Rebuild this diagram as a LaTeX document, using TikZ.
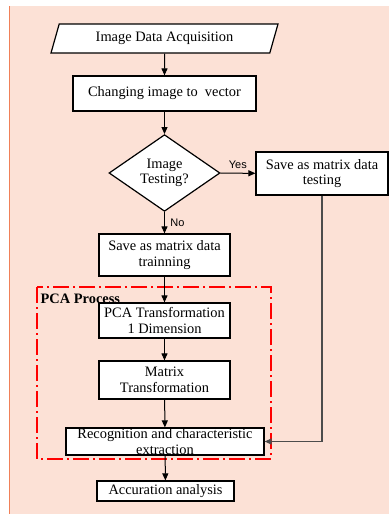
\documentclass[tikz,border=0pt]{standalone}
\usepackage{fontspec}
\setmainfont{Liberation Serif}
\newfontfamily\labelfont{Liberation Sans}
\usetikzlibrary{shapes.geometric}
\usetikzlibrary{arrows.meta}
\definecolor{bgpeach}{RGB}{252,225,214}
\definecolor{edgeorange}{RGB}{240,128,88}
\tikzset{%
  box/.style={draw,fill=white,line width=1.2pt,inner sep=0pt,
              align=center,font=\fontsize{14.4}{15.6}\selectfont},
  flow/.style={line width=1pt,-{Triangle[length=7pt,width=6pt]}},
  yesno/.style={font=\labelfont\fontsize{11}{12}\selectfont},
  pcaframe/.style={draw=red,line width=1.4pt,
              dash pattern=on 16pt off 4pt on 2pt off 4pt},
}

\begin{document}
\begin{tikzpicture}[x=1pt,y=-1pt]
              \useasboundingbox (0,0) rectangle (389,514);
              \fill[bgpeach] (9,6) rectangle (389,514);
              \draw[edgeorange,line width=1.2pt] (9.6,6) -- (9.6,514);
              % flowchart boxes
              \node[box,trapezium,trapezium left angle=57,trapezium right angle=123,
                    trapezium stretches body,minimum width=227,minimum height=29]
                    (acq) at (164.5,38.5) {Image Data Acquisition};
              \node[box,minimum width=183,minimum height=35] (vec) at (164.5,93.5)
                    {Changing image to~ vector};
              \node[box,diamond,minimum width=111,minimum height=62] (test) at (164.5,173)
                    {Image\\Testing?};
              \node[box,minimum width=132,minimum height=43] (savetest) at (322,173.5)
                    {Save as matrix data\\testing};
              \node[box,minimum width=131,minimum height=42] (savetrain) at (164.5,255)
                    {Save as matrix data\\trainning};
              \draw[pcaframe] (37,287) rectangle (271,459);
              \node[anchor=west,font=\bfseries\fontsize{14.4}{15.6}\selectfont,inner sep=0pt]
                    (pcalabel) at (40.5,299) {PCA Process};
              \node[box,minimum width=131,minimum height=35] (pca) at (164.5,320.5)
                    {PCA Transformation\\1 Dimension};
              \node[box,minimum width=131,minimum height=38] (matrix) at (164.5,380)
                    {Matrix\\Transformation};
              \node[box,minimum width=198,minimum height=27,
                    label={[align=center,font=\fontsize{14.4}{15.6}\selectfont]center:Recognition and characteristic\\extraction}]
                    (recog) at (165,441.5) {};
              \node[box,minimum width=137,minimum height=20] (accur) at (165.5,491)
                    {Accuration analysis};
              % connectors
              \draw[flow] (acq) -- (vec);
              \draw[flow] (vec) -- (test);
              \draw[flow] (test) -- node[yesno,above=1pt] {Yes} (savetest);
              \draw[flow] (test) -- node[yesno,right=2pt] {No} (savetrain);
              \draw[flow] (savetrain) -- (pca);
              \draw[flow] (pca) -- (matrix);
              \draw[flow] (matrix) -- (recog);
              \draw[flow,black!70,line width=1.2pt] (savetest.south) |- (recog.east);
              \draw[flow] (recog) -- (accur);
\end{tikzpicture}
\end{document}
